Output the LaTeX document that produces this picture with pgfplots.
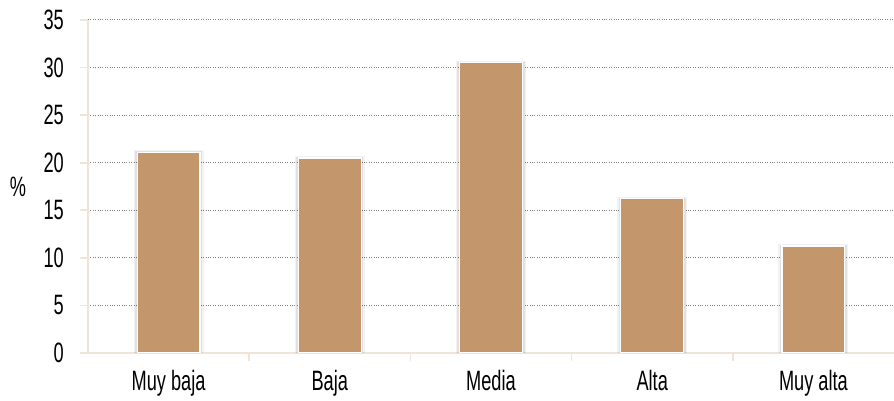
\documentclass[border=0pt]{standalone}
\usepackage{fontspec}
\setmainfont[FakeStretch=0.65]{Liberation Sans}
\usepackage{pgfplots}
\pgfplotsset{compat=1.18}
\definecolor{barc}{RGB}{195,150,107}
\definecolor{axc}{RGB}{240,228,216}
\begin{document}
\begin{tikzpicture}
\path[use as bounding box] (0,0) rectangle (894pt,401pt);
\begin{axis}[
  at={(88pt,48pt)}, anchor=south west,
  scale only axis, width=806pt, height=333pt,
  xmin=-0.5, xmax=4.5, ymin=0, ymax=35,
  axis x line*=bottom, axis y line*=left,
  axis line style={draw=axc, line width=1.6pt, -},
  tick align=outside,
  major tick length=8pt,
  /pgf/number format/assume math mode=true,
  ytick={0,5,...,35},
  ymajorgrids,
  grid style={dotted, draw=black!50, line width=1pt},
  ytick style={draw=axc, line width=1.6pt},
  xtick={0.5,1.5,2.5,3.5}, xticklabels={},
  xtick style={draw=axc, line width=1.6pt},
  extra x ticks={0,1,2,3,4},
  extra x tick labels={Muy baja,Baja,Media,Alta,Muy alta},
  extra x tick style={major tick length=0pt, grid=none},
  tick label style={font=\fontsize{28}{28}\selectfont, text=black},
  yticklabel style={inner xsep=0pt, xshift=-16pt},
  xticklabel style={yshift=-14pt},
  ylabel={\%},
  every axis y label/.style={at={(axis description cs:0,0.5)}, anchor=center, xshift=-70pt, font=\fontsize{28}{28}\selectfont},
  ybar, bar width=0.39,
]
\addplot[fill=barc, draw=white, line width=1.2pt,
  preaction={draw=black, draw opacity=0.05, line width=7pt, transform canvas={yshift=-1.5pt}},
  preaction={draw=black, draw opacity=0.07, line width=4.5pt, transform canvas={yshift=-1pt}}]
  coordinates {(0,21.1) (1,20.5) (2,30.5) (3,16.2) (4,11.25)};
\end{axis}
\end{tikzpicture}
\end{document}
